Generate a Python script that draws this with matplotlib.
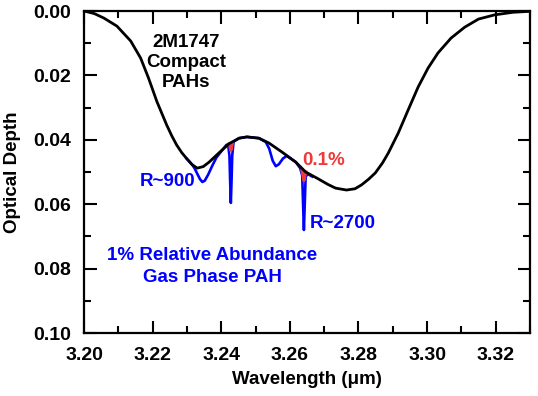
import matplotlib
matplotlib.use('Agg')
import matplotlib.pyplot as plt
from matplotlib.ticker import MultipleLocator, FormatStrFormatter

# black: smoothed 2M1747 absorption profile
black_wave = [3.2000, 3.2030, 3.2058, 3.2096, 3.2136, 3.2165, 3.2188, 3.2212, 3.2241,
              3.2256, 3.2270, 3.2285, 3.2299, 3.2315, 3.2330, 3.2348, 3.2365, 3.2394,
              3.2423, 3.2452, 3.2475, 3.2510, 3.2539, 3.2577, 3.2617, 3.2646, 3.2684,
              3.2710, 3.2733, 3.2765, 3.2790, 3.2809, 3.2830, 3.2849, 3.2870, 3.2887,
              3.2916, 3.2945, 3.2974, 3.3003, 3.3032, 3.3070, 3.3110, 3.3150, 3.3197,
              3.3250, 3.3300]
black_depth = [0.0000, 0.0008, 0.0022, 0.0047, 0.0093, 0.0146, 0.0208, 0.0280, 0.0354,
               0.0388, 0.0416, 0.0440, 0.0458, 0.0477, 0.0488, 0.0483, 0.0469, 0.0440,
               0.0412, 0.0395, 0.0391, 0.0395, 0.0410, 0.0438, 0.0469, 0.0500, 0.0522,
               0.0538, 0.0550, 0.0556, 0.0552, 0.0540, 0.0522, 0.0503, 0.0472, 0.0441,
               0.0379, 0.0307, 0.0236, 0.0177, 0.0130, 0.0084, 0.0050, 0.0025, 0.0012,
               0.0004, 0.0001]

# blue: 1% gas phase PAH added (R~900 and R~2700 features)
blue_wave = [3.2299, 3.2315, 3.2322, 3.2330, 3.2338, 3.2345, 3.2352, 3.2362, 3.2375,
             3.2386, 3.2400, 3.2415, 3.2420, 3.2424, 3.2426, 3.2428, 3.2430, 3.2432,
             3.2436, 3.2452, 3.2475, 3.2510, 3.2530, 3.2540, 3.2550, 3.2559, 3.2568,
             3.2580, 3.2591, 3.2617, 3.2630, 3.2636, 3.2638, 3.2641, 3.2644, 3.2646,
             3.2652, 3.2665]
blue_depth = [0.0458, 0.0477, 0.0488, 0.0505, 0.0522, 0.0531, 0.0527, 0.0508, 0.0478,
              0.0455, 0.0436, 0.0416, 0.0414, 0.0450, 0.0530, 0.0596, 0.0530, 0.0450,
              0.0406, 0.0395, 0.0391, 0.0395, 0.0407, 0.0428, 0.0465, 0.0482, 0.0476,
              0.0458, 0.0450, 0.0469, 0.0488, 0.0510, 0.0580, 0.0680, 0.0580, 0.0515,
              0.0506, 0.0514]

# red: 0.1% abundance
red1_wave = [3.2424, 3.2426, 3.2428, 3.2430, 3.2432]
red1_depth = [0.0413, 0.0421, 0.0432, 0.0421, 0.0411]
red2_wave = [3.2636, 3.2639, 3.2641, 3.2643, 3.2646]
red2_depth = [0.0496, 0.0512, 0.0526, 0.0513, 0.0500]

blue = '#0000ff'
red = '#ee3a3a'

plt.rcParams['font.family'] = ['Liberation Sans', 'DejaVu Sans']
plt.rcParams['font.weight'] = 'bold'
fs = 13.5

fig = plt.figure(figsize=(5.38, 3.96), dpi=100)
ax = fig.add_axes([84/538, 1 - 333/396, 446/538, 322/396])

ax.plot(blue_wave, blue_depth, color=blue, lw=1.9, zorder=2)
ax.plot(red1_wave, red1_depth, color=red, lw=2.5, zorder=3)
ax.plot(red2_wave, red2_depth, color=red, lw=2.5, zorder=3)
ax.plot(black_wave, black_depth, color='black', lw=2.0, zorder=4)

ax.set_xlim(3.20, 3.33)
ax.set_ylim(0.10, 0.0)
ax.xaxis.set_major_locator(MultipleLocator(0.02))
ax.xaxis.set_minor_locator(MultipleLocator(0.01))
ax.yaxis.set_major_locator(MultipleLocator(0.02))
ax.yaxis.set_minor_locator(MultipleLocator(0.01))
ax.xaxis.set_major_formatter(FormatStrFormatter('%.2f'))
ax.yaxis.set_major_formatter(FormatStrFormatter('%.2f'))

ax.tick_params(which='both', direction='in', top=True, right=True, width=1.5)
ax.tick_params(which='major', length=9, labelsize=14)
ax.tick_params(axis='x', which='major', pad=10)
ax.tick_params(axis='y', which='major', pad=9)
ax.tick_params(which='minor', length=5)
for s in ax.spines.values():
    s.set_linewidth(1.6)

ax.set_xlabel('Wavelength (\u03bcm)', fontsize=fs, fontweight='bold', labelpad=5)
ax.set_ylabel('Optical Depth', fontsize=fs, fontweight='bold', labelpad=9)

ax.text(3.2298, 0.0160, '2M1747\nCompact\nPAHs', ha='center', va='center',
        fontsize=fs, fontweight='bold', linespacing=1.2)
ax.text(3.2325, 0.0531, 'R~900', ha='right', va='center', color=blue, fontsize=fs, fontweight='bold')
ax.text(3.2658, 0.0661, 'R~2700', ha='left', va='center', color=blue, fontsize=fs, fontweight='bold')
ax.text(3.2635, 0.0463, '0.1%', ha='left', va='center', color=red, fontsize=fs, fontweight='bold')
ax.text(3.2374, 0.0758, '1% Relative Abundance', ha='center', va='center', color=blue,
        fontsize=fs, fontweight='bold')
ax.text(3.2374, 0.0829, 'Gas Phase PAH', ha='center', va='center', color=blue,
        fontsize=fs, fontweight='bold')

plt.savefig('out.png', dpi=100)
plt.close(fig)
